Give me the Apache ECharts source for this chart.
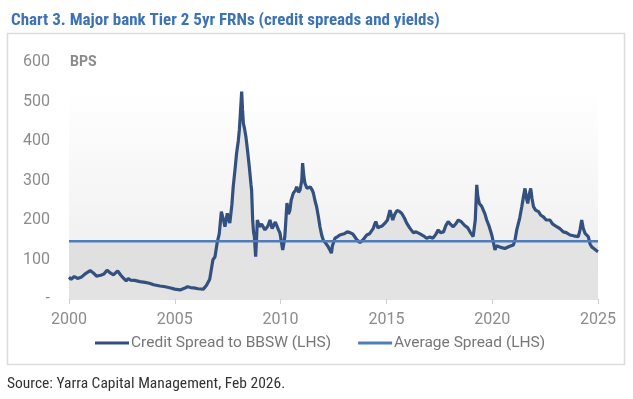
<!DOCTYPE html>
<html>
<head>
<meta charset="utf-8">
<script src="https://cdn.jsdelivr.net/npm/echarts@6.0.0/dist/echarts.min.js"></script>
<style>
  html, body { margin: 0; padding: 0; background: #fff; }
  #chart { width: 633px; height: 399px; }
</style>
</head>
<body>
<div id="chart"></div>
<script>
// 数据：年份(小数年)与信用利差(bps)
const spreadYears = [
    2000.0, 2000.1, 2000.25, 2000.4, 2000.6, 2000.8, 2001.0, 2001.15, 2001.3, 2001.5,
    2001.65, 2001.8, 2001.95, 2002.1, 2002.3, 2002.45, 2002.55, 2002.7, 2002.8, 2002.9,
    2003.1, 2003.35, 2003.6, 2003.8, 2004.0, 2004.3, 2004.55, 2004.8, 2005.0, 2005.25,
    2005.45, 2005.6, 2005.75, 2005.9, 2006.1, 2006.35, 2006.5, 2006.65, 2006.8, 2006.9,
    2007.0, 2007.1, 2007.2, 2007.3, 2007.37, 2007.48, 2007.6, 2007.7, 2007.76, 2007.85,
    2007.92, 2008.0, 2008.05, 2008.1, 2008.16, 2008.2, 2008.24, 2008.3, 2008.36, 2008.45,
    2008.52, 2008.6, 2008.63, 2008.68, 2008.72, 2008.76, 2008.82, 2008.87, 2008.9, 2009.0,
    2009.1, 2009.26, 2009.4, 2009.5, 2009.6, 2009.65, 2009.75, 2009.8, 2009.9, 2009.97,
    2010.05, 2010.1, 2010.15, 2010.2, 2010.25, 2010.3, 2010.37, 2010.44, 2010.5, 2010.6,
    2010.7, 2010.76, 2010.85, 2010.92, 2011.0, 2011.04, 2011.1, 2011.15, 2011.25, 2011.4,
    2011.5, 2011.55, 2011.62, 2011.7, 2011.78, 2011.86, 2011.95, 2012.02, 2012.15, 2012.25,
    2012.32, 2012.4, 2012.45, 2012.57, 2012.7, 2012.8, 2013.0, 2013.15, 2013.28, 2013.4,
    2013.5, 2013.6, 2013.75, 2013.9, 2014.07, 2014.2, 2014.38, 2014.45, 2014.5, 2014.6,
    2014.7, 2014.8, 2014.93, 2015.05, 2015.17, 2015.25, 2015.3, 2015.4, 2015.5, 2015.6,
    2015.72, 2015.85, 2015.96, 2016.1, 2016.27, 2016.4, 2016.59, 2016.75, 2016.9, 2017.05,
    2017.2, 2017.35, 2017.45, 2017.55, 2017.7, 2017.8, 2017.92, 2018.05, 2018.16, 2018.3,
    2018.4, 2018.55, 2018.7, 2018.85, 2018.95, 2019.1, 2019.2, 2019.27, 2019.32, 2019.39,
    2019.5, 2019.58, 2019.66, 2019.74, 2019.85, 2019.98, 2020.05, 2020.13, 2020.2, 2020.29,
    2020.45, 2020.6, 2020.8, 2021.0, 2021.08, 2021.16, 2021.3, 2021.4, 2021.48, 2021.55,
    2021.62, 2021.68, 2021.75, 2021.82, 2021.88, 2021.95, 2022.05, 2022.19, 2022.3, 2022.42,
    2022.55, 2022.73, 2022.85, 2023.05, 2023.2, 2023.36, 2023.5, 2023.68, 2023.85, 2024.07,
    2024.15, 2024.23, 2024.3, 2024.39, 2024.54, 2024.62, 2024.7, 2024.8, 2024.94, 2025.0
];
const spreadValues = [
    55, 50, 57, 52, 56, 65, 72, 66, 58, 60,
    63, 73, 66, 61, 71, 60, 54, 46, 52, 48,
    47, 44, 42, 40, 36, 33, 31, 28, 25, 23,
    27, 31, 29, 28, 26, 25, 35, 50, 99, 107,
    142, 165, 221, 200, 183, 217, 192, 240, 284, 330,
    369, 400, 428, 470, 525, 480, 445, 430, 411, 370,
    335, 290, 276, 200, 170, 158, 107, 160, 200, 183,
    190, 175, 185, 200, 178, 180, 195, 192, 175, 167,
    140, 124, 140, 158, 200, 243, 215, 225, 250, 268,
    275, 284, 270, 276, 300, 344, 310, 293, 280, 284,
    275, 268, 250, 234, 210, 183, 160, 149, 140, 132,
    125, 116, 135, 154, 158, 162, 165, 170, 168, 165,
    158, 150, 143, 150, 162, 165, 179, 190, 196, 180,
    183, 185, 192, 200, 225, 210, 200, 215, 224, 222,
    217, 205, 192, 180, 168, 170, 165, 160, 154, 157,
    154, 165, 175, 168, 170, 185, 196, 188, 183, 192,
    200, 195, 186, 180, 170, 158, 200, 289, 260, 242,
    235, 225, 215, 200, 185, 162, 145, 124, 135, 137,
    130, 128, 133, 137, 150, 175, 205, 234, 260, 280,
    255, 242, 265, 280, 255, 234, 225, 221, 212, 208,
    200, 200, 190, 183, 178, 170, 168, 162, 160, 158,
    175, 200, 180, 166, 158, 140, 132, 128, 122, 120
];
const averageSpread = 146;
const xRange = [2000, 2025];
const yTickLabels = ['-', '100', '200', '300', '400', '500', '600'];

const spreadData = spreadYears.map((y, i) => [y, spreadValues[i]]);
const averageData = xRange.map(y => [y, averageSpread]);

const narrow = '"Liberation Sans Narrow", "Roboto Condensed", Roboto, sans-serif';

const chart = echarts.init(document.getElementById('chart'), null, { renderer: 'canvas' });

const option = {
    animation: false,
    title: {
        text: 'Chart 3. Major bank Tier 2 5yr FRNs (credit spreads and yields)',
        left: 6,
        top: 7,
        textStyle: {
            fontFamily: narrow,
            fontSize: 17,
            fontWeight: 'bold',
            color: '#3d72b6'
        }
    },
    graphic: [
        {
            type: 'rect',
            shape: { x: 7.5, y: 33.5, width: 617, height: 331 },
            style: { fill: 'none', stroke: '#dcdcdc', lineWidth: 1.5 },
            silent: true
        },
        {
            type: 'text',
            left: 70,
            top: 55,
            style: {
                text: 'BPS',
                fontFamily: 'Roboto, sans-serif',
                fontSize: 14,
                fontWeight: 'bold',
                fill: '#8a8a8a'
            }
        },
        {
            type: 'text',
            left: 7,
            top: 376,
            style: {
                text: 'Source: Yarra Capital Management, Feb 2026.',
                fontFamily: narrow,
                fontSize: 15.5,
                fill: '#333'
            }
        }
    ],
    legend: {
        data: ['Credit Spread to BBSW (LHS)', 'Average Spread (LHS)'],
        left: 95,
        top: 335,
        padding: 0,
        icon: 'rect',
        itemWidth: 34,
        itemHeight: 3,
        itemGap: 27,
        textStyle: {
            fontFamily: 'Roboto, sans-serif',
            fontSize: 15.5,
            color: '#777777',
            padding: [0, 0, 0, -3]
        }
    },
    grid: {
        left: 69,
        right: 35,
        top: 62,
        bottom: 100,
        show: true,
        borderWidth: 0,
        backgroundColor: {
            type: 'linear', x: 0, y: 0, x2: 0, y2: 1,
            colorStops: [
                { offset: 0, color: '#ffffff' },
                { offset: 0.12, color: '#ffffff' },
                { offset: 1, color: '#ececec' }
            ]
        }
    },
    xAxis: {
        type: 'value',
        min: xRange[0],
        max: xRange[1],
        interval: 5,
        axisLine: { show: true, lineStyle: { color: '#e2e2e2', width: 1 } },
        axisTick: { show: true, length: 5, lineStyle: { color: '#d0d0d0' } },
        splitLine: { show: false },
        axisLabel: {
            margin: 13,
            fontFamily: 'Roboto, sans-serif',
            fontSize: 16,
            color: '#8c8c8c',
            formatter: v => String(v)
        }
    },
    yAxis: {
        type: 'value',
        min: 0,
        max: 600,
        interval: 100,
        axisLine: { show: false },
        axisTick: { show: false },
        splitLine: { show: false },
        axisLabel: {
            margin: 19,
            fontFamily: 'Roboto, sans-serif',
            fontSize: 16,
            color: '#8c8c8c',
            formatter: v => yTickLabels[Math.round(v / 100)]
        }
    },
    series: [
        {
            // 平均线下方的灰色填充
            name: 'averageFill',
            type: 'line',
            data: averageData,
            symbol: 'none',
            lineStyle: { width: 0 },
            areaStyle: { color: '#e0e0e0', opacity: 1 },
            z: 1,
            silent: true
        },
        {
            name: 'Credit Spread to BBSW (LHS)',
            type: 'line',
            data: spreadData,
            symbol: 'none',
            color: '#334e7e',
            lineStyle: { width: 3.2, color: '#34507f' },
            areaStyle: { color: '#e3e3e3', opacity: 1 },
            z: 2
        },
        {
            name: 'Average Spread (LHS)',
            type: 'line',
            data: averageData,
            symbol: 'none',
            color: '#4f7db9',
            lineStyle: { width: 2.5, color: '#4f7db9' },
            z: 3
        }
    ]
};

chart.setOption(option);
</script>
</body>
</html>
